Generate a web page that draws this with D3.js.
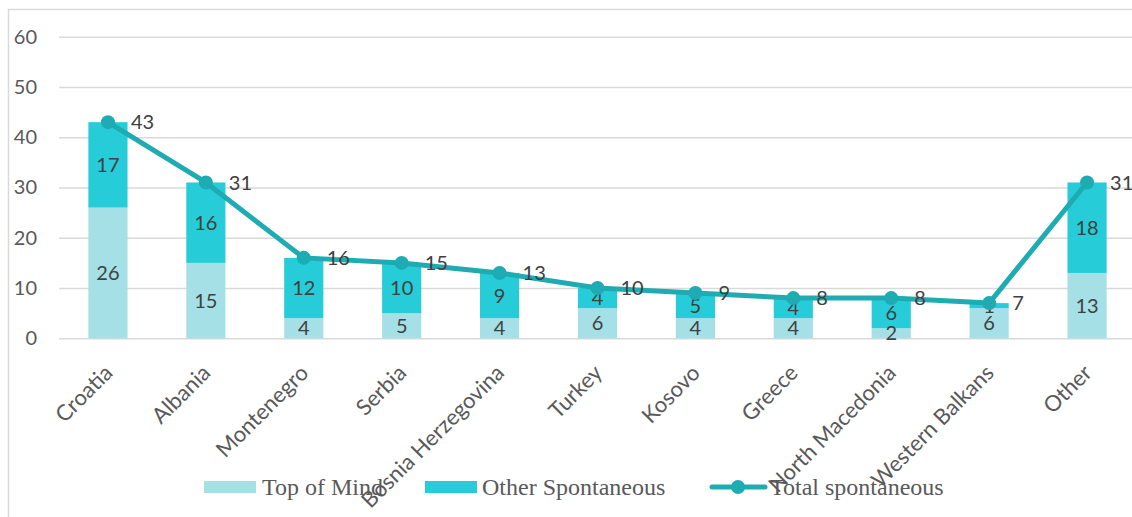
<!DOCTYPE html>
<html>
<head>
<meta charset="utf-8">
<script src="https://cdn.jsdelivr.net/npm/d3@7"></script>
<style>
  html, body { margin: 0; padding: 0; background: #fff; }
  svg { display: block; }
</style>
</head>
<body>
<svg id="chart" width="1132" height="517"></svg>
<script>
// Spontaneous awareness by destination
const categories = ["Croatia", "Albania", "Montenegro", "Serbia", "Bosnia Herzegovina",
  "Turkey", "Kosovo", "Greece", "North Macedonia", "Western Balkans", "Other"];
const topOfMind = [26, 15, 4, 5, 4, 6, 4, 4, 2, 6, 13];
const otherSpontaneous = [17, 16, 12, 10, 9, 4, 5, 4, 6, 1, 18];
const totalSpontaneous = [43, 31, 16, 15, 13, 10, 9, 8, 8, 7, 31];
const yTicks = [0, 10, 20, 30, 40, 50, 60];
const seriesNames = ["Top of Mind", "Other Spontaneous", "Total spontaneous"];

const colors = { tom: "#a5e0e6", other: "#26cdd8", total: "#1eabb2", grid: "#d9d9d9", text: "#404040", axis: "#595959" };
const sans = "Lato, 'Open Sans', sans-serif";

const svg = d3.select("#chart");

// outer chart frame
svg.append("rect")
  .attr("x", 8.5).attr("y", 9.5).attr("width", 1300).attr("height", 700)
  .attr("fill", "none").attr("stroke", colors.grid).attr("stroke-width", 1.5);

const plot = { left: 59, right: 1136, top: 36.7, bottom: 338.3 };

const x = d3.scaleBand().domain(categories).range([plot.left, plot.right]).paddingInner(0.6).paddingOuter(0.3);
const y = d3.scaleLinear().domain([0, 60]).range([plot.bottom, plot.top]);

// gridlines + y labels
const yAxis = d3.axisLeft(y).tickValues(yTicks).tickSize(-(plot.right - plot.left)).tickPadding(22);
const gy = svg.append("g").attr("transform", `translate(${plot.left},0)`).call(yAxis);
gy.select(".domain").remove();
gy.selectAll(".tick line").attr("stroke", colors.grid).attr("stroke-width", 1.5);
gy.selectAll(".tick text")
  .attr("fill", colors.axis).attr("font-family", sans).attr("font-size", 20);

// x labels, rotated
const xAxis = d3.axisBottom(x).tickSize(0).tickPadding(0);
const gx = svg.append("g").attr("transform", `translate(0,${plot.bottom})`).call(xAxis);
gx.select(".domain").remove();
gx.selectAll(".tick text")
  .attr("fill", colors.axis).attr("font-family", sans).attr("font-size", 22)
  .attr("text-anchor", "end")
  .attr("dy", 0)
  .attr("transform", "translate(6,36) rotate(-45)");

// stacked bars
const stackData = categories.map((c, i) => ({ cat: c, tom: topOfMind[i], other: otherSpontaneous[i] }));
const stack = d3.stack().keys(["tom", "other"])(stackData);
const fills = { tom: colors.tom, other: colors.other };

const layers = svg.append("g").selectAll("g").data(stack).join("g").attr("fill", d => fills[d.key]);
layers.selectAll("rect").data(d => d).join("rect")
  .attr("x", d => x(d.data.cat))
  .attr("width", x.bandwidth())
  .attr("y", d => y(d[1]))
  .attr("height", d => y(d[0]) - y(d[1]));

// segment labels
const segLabels = svg.append("g")
  .attr("font-family", sans).attr("font-size", 20)
  .attr("fill", colors.text).attr("text-anchor", "middle");
stack.forEach(layer => {
  segLabels.selectAll(null).data(layer).join("text")
    .attr("x", d => x(d.data.cat) + x.bandwidth() / 2)
    .attr("y", d => y((d[0] + d[1]) / 2))
    .attr("dy", "0.36em")
    .text(d => d[1] - d[0]);
});

// total line with markers and value labels
const cx = c => x(c) + x.bandwidth() / 2;
const line = d3.line().x((d, i) => cx(categories[i])).y(d => y(d));
svg.append("path").datum(totalSpontaneous)
  .attr("d", line).attr("fill", "none").attr("stroke", colors.total)
  .attr("stroke-width", 5).attr("stroke-linejoin", "round");
svg.append("g").selectAll("circle").data(totalSpontaneous).join("circle")
  .attr("cx", (d, i) => cx(categories[i])).attr("cy", d => y(d)).attr("r", 7)
  .attr("fill", colors.total);
svg.append("g")
  .attr("font-family", sans).attr("font-size", 20).attr("fill", colors.text)
  .selectAll("text").data(totalSpontaneous).join("text")
  .attr("x", (d, i) => cx(categories[i]) + 23)
  .attr("y", d => y(d)).attr("dy", "0.36em")
  .text(d => d);

// legend
const legend = svg.append("g")
  .attr("font-family", "'Liberation Serif', 'Times New Roman', serif").attr("font-size", 24).attr("fill", colors.axis);
legend.append("rect").attr("x", 204).attr("y", 481).attr("width", 52).attr("height", 12).attr("fill", colors.tom);
legend.append("text").attr("x", 262).attr("y", 494.5).text(seriesNames[0]);
legend.append("rect").attr("x", 425).attr("y", 481).attr("width", 52).attr("height", 12).attr("fill", colors.other);
legend.append("text").attr("x", 482).attr("y", 494.5).text(seriesNames[1]);
legend.append("line").attr("x1", 712).attr("x2", 765).attr("y1", 487).attr("y2", 487)
  .attr("stroke", colors.total).attr("stroke-width", 5).attr("stroke-linecap", "round");
legend.append("circle").attr("cx", 738).attr("cy", 487).attr("r", 7).attr("fill", colors.total);
legend.append("text").attr("x", 770).attr("y", 494.5).text(seriesNames[2]);
</script>
</body>
</html>
